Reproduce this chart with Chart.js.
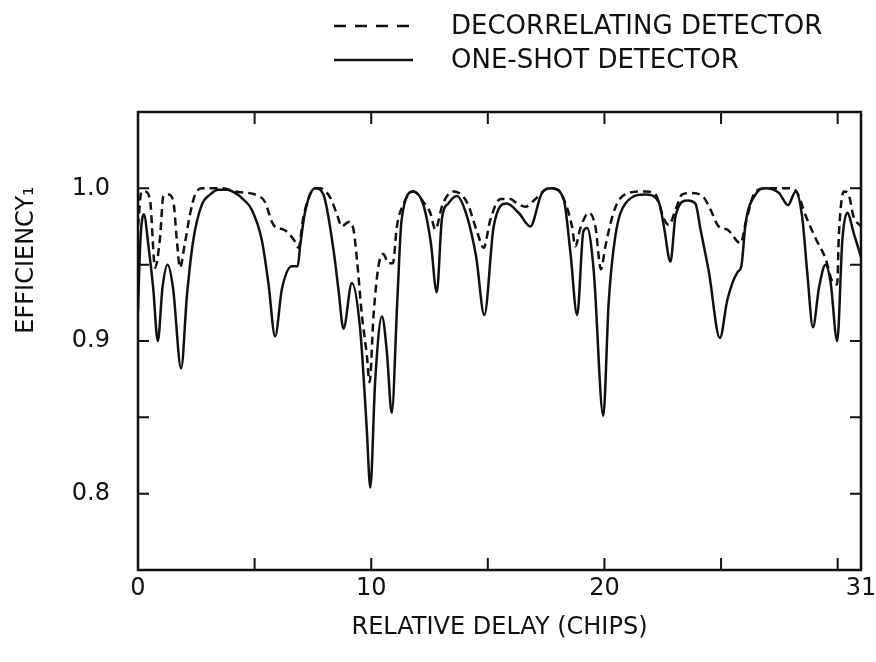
<!DOCTYPE html>
<html>
<head>
<meta charset="utf-8">
<script src="https://cdn.jsdelivr.net/npm/chart.js@4.4.0/dist/chart.umd.min.js"></script>
<style>
  html, body { margin: 0; padding: 0; background: #fff; }
</style>
</head>
<body>
<canvas id="myChart" width="876" height="662"></canvas>
<script>
// Retardo relativo (chips) y eficiencia
var oneShotX = [0, 0.1, 0.25, 0.45, 0.65, 0.85, 1.05, 1.27, 1.5, 1.85, 2.1, 2.37, 2.73, 3.1, 3.45, 3.8, 4.16, 4.5, 4.88,
  5.31, 5.59, 5.88, 6.17, 6.6, 6.85, 6.95, 7.17, 7.6, 7.95, 8.38, 8.6, 8.81, 9.17, 9.53, 9.81, 9.96, 10.17, 10.46,
  10.67, 10.88, 11.12, 11.3, 11.8, 12.24, 12.55, 12.81, 13.03, 13.3, 13.67, 14.1, 14.5, 14.85, 15.25, 15.8, 16.32,
  16.82, 17.32, 17.75, 18.25, 18.54, 18.83, 19.1, 19.26, 19.54, 19.95, 20.18, 20.47, 20.9, 21.76, 22.33, 22.55,
  22.83, 23.05, 23.55, 23.9, 24.12, 24.48, 24.95, 25.27, 25.7, 25.87, 26.05, 26.48, 26.9, 27.48, 27.87, 28.2,
  28.48, 28.7, 28.94, 29.2, 29.48, 29.7, 29.98, 30.2, 30.41, 30.7, 31];
var oneShotY = [0.92, 0.965, 0.983, 0.962, 0.935, 0.9, 0.935, 0.95, 0.935, 0.882, 0.93, 0.966, 0.989, 0.996, 0.999,
  0.999, 0.997, 0.993, 0.986, 0.966, 0.938, 0.903, 0.934, 0.949, 0.949, 0.962, 0.985, 1.0, 0.996, 0.96, 0.933,
  0.908, 0.938, 0.907, 0.842, 0.804, 0.874, 0.916, 0.893, 0.853, 0.927, 0.979, 0.998, 0.989, 0.965, 0.932, 0.98,
  0.99, 0.995, 0.982, 0.955, 0.917, 0.975, 0.99, 0.984, 0.975, 0.997, 1.0, 0.993, 0.958, 0.917, 0.972, 0.974,
  0.946, 0.851, 0.925, 0.969, 0.99, 0.996, 0.991, 0.975, 0.952, 0.982, 0.992, 0.99, 0.973, 0.945, 0.902, 0.927,
  0.945, 0.949, 0.977, 0.996, 1.0, 0.997, 0.989, 0.998, 0.981, 0.944, 0.909, 0.935, 0.95, 0.938, 0.9, 0.966,
  0.984, 0.97, 0.955];

var decorrX = [0, 0.15, 0.3, 0.52, 0.73, 0.94, 1.09, 1.3, 1.52, 1.66, 1.8, 2.0, 2.23, 2.45, 2.73, 3.59, 4.16, 5.16,
  5.45, 5.74, 5.95, 6.24, 6.74, 6.88, 7.1, 7.6, 7.81, 8.24, 8.53, 8.74, 9.03, 9.24, 9.39, 9.6, 9.81, 9.93, 10.1,
  10.31, 10.52, 10.74, 10.93, 11.1, 11.39, 11.8, 12.24, 12.53, 12.75, 13.03, 13.25, 13.53, 14.1, 14.53, 14.82,
  15.1, 15.54, 15.97, 16.18, 16.61, 17.04, 17.6, 18.0, 18.33, 18.61, 18.75, 18.97, 19.33, 19.61, 19.85, 20.04,
  20.33, 20.61, 21.04, 21.76, 22.19, 22.55, 22.76, 23.05, 23.33, 23.76, 24.26, 24.55, 24.9, 25.27, 25.84, 26.05,
  26.48, 26.95, 27.98, 28.27, 28.63, 29.06, 29.48, 29.77, 29.98, 30.05, 30.27, 30.49, 30.67, 31];
var decorrY = [0.975, 0.998, 0.998, 0.992, 0.948, 0.967, 0.995, 0.996, 0.991, 0.967, 0.948, 0.963, 0.983, 0.996,
  1.0, 1.0, 0.998, 0.995, 0.991, 0.978, 0.974, 0.973, 0.965, 0.961, 0.982, 1.0, 1.0, 0.994, 0.983, 0.975, 0.978,
  0.973, 0.953, 0.917, 0.891, 0.873, 0.917, 0.949, 0.957, 0.951, 0.951, 0.975, 0.99, 0.998, 0.991, 0.984, 0.973,
  0.988, 0.995, 0.998, 0.991, 0.972, 0.961, 0.979, 0.993, 0.993, 0.991, 0.988, 0.993, 1.0, 0.999, 0.99, 0.975,
  0.962, 0.974, 0.984, 0.975, 0.947, 0.962, 0.981, 0.992, 0.997, 0.998, 0.996, 0.98, 0.976, 0.986, 0.996, 0.997,
  0.994, 0.986, 0.975, 0.973, 0.964, 0.977, 0.998, 1.0, 1.0, 0.997, 0.982, 0.967, 0.954, 0.939, 0.937, 0.969,
  0.998, 0.995, 0.982, 0.975];

var xTicks = [0, 5, 10, 15, 20, 25, 30, 31];
var xLabels = [0, 10, 20, 31];
var yTicks = [0.8, 0.85, 0.9, 0.95, 1.0];
var yLabels = [0.8, 0.9, 1.0];

var FONT = "'DejaVu Sans', sans-serif";
var INK = '#111';

function pairs(xs, ys) {
  return xs.map(function(x, i) { return { x: x, y: ys[i] }; });
}

// marco, marcas hacia dentro, leyenda y titulo del eje y
var framePlugin = {
  id: 'frame',
  afterDraw: function(chart) {
    var c = chart.ctx, a = chart.chartArea;
    var sx = chart.scales.x, sy = chart.scales.y;
    c.save();
    c.strokeStyle = INK;
    c.lineWidth = 2.5;
    c.strokeRect(a.left, a.top, a.right - a.left, a.bottom - a.top);
    c.lineWidth = 2;
    c.beginPath();
    xTicks.forEach(function(v) {
      if (v === 0 || v === 31) return;
      var px = sx.getPixelForValue(v);
      c.moveTo(px, a.bottom); c.lineTo(px, a.bottom - 12);
      c.moveTo(px, a.top); c.lineTo(px, a.top + 12);
    });
    yTicks.forEach(function(v) {
      var py = sy.getPixelForValue(v);
      c.moveTo(a.left, py); c.lineTo(a.left + 11, py);
      c.moveTo(a.right, py); c.lineTo(a.right - 11, py);
    });
    c.stroke();

    // leyenda
    c.font = '26px ' + FONT;
    c.fillStyle = INK;
    c.textBaseline = 'middle';
    c.textAlign = 'left';
    chart.data.datasets.forEach(function(ds, i) {
      var y = 26 + i * 34;
      c.beginPath();
      c.lineWidth = 2.5;
      c.setLineDash(ds.borderDash ? [12, 9] : []);
      c.moveTo(334, y); c.lineTo(413, y);
      c.stroke();
      c.setLineDash([]);
      c.fillText(ds.label, 451, y + 1);
    });

    // titulo del eje y
    c.translate(27, 260);
    c.rotate(-Math.PI / 2);
    c.textAlign = 'center';
    c.font = '24px ' + FONT;
    c.fillText('EFFICIENCY\u2081', 0, 0);
    c.restore();
  }
};

var ctx = document.getElementById('myChart').getContext('2d');
var myChart = new Chart(ctx, {
  type: 'line',
  data: {
    datasets: [{
      label: 'DECORRELATING DETECTOR',
      data: pairs(decorrX, decorrY),
      borderColor: INK,
      borderWidth: 2.5,
      borderDash: [8, 5],
      pointRadius: 0,
      fill: false,
      cubicInterpolationMode: 'monotone'
    }, {
      label: 'ONE-SHOT DETECTOR',
      data: pairs(oneShotX, oneShotY),
      borderColor: INK,
      borderWidth: 2.5,
      pointRadius: 0,
      fill: false,
      cubicInterpolationMode: 'monotone'
    }]
  },
  options: {
    responsive: false,
    animation: false,
    layout: { padding: { left: 0, right: 15, top: 112, bottom: 0 } },
    plugins: {
      legend: { display: false },
      tooltip: { enabled: false }
    },
    scales: {
      x: {
        type: 'linear',
        min: 0,
        max: 31,
        grid: { display: false },
        border: { display: false },
        afterBuildTicks: function(s) { s.ticks = xTicks.map(function(v) { return { value: v }; }); },
        afterFit: function(s) { s.height = 92; s.paddingLeft = 0; s.paddingRight = 0; },
        ticks: {
          autoSkip: false,
          maxRotation: 0,
          padding: -4,
          color: INK,
          font: { family: FONT, size: 24 },
          callback: function(v) { return xLabels.indexOf(v) >= 0 ? String(v) : ''; }
        },
        title: {
          display: true,
          text: 'RELATIVE DELAY (CHIPS)',
          color: INK,
          font: { family: FONT, size: 24 },
          padding: { top: 0, bottom: 20 }
        }
      },
      y: {
        min: 0.75,
        max: 1.05,
        grid: { display: false },
        border: { display: false },
        afterBuildTicks: function(s) { s.ticks = yTicks.map(function(v) { return { value: v }; }); },
        afterFit: function(s) { s.width = 138; s.paddingTop = 0; s.paddingBottom = 0; },
        ticks: {
          autoSkip: false,
          padding: 20,
          color: INK,
          font: { family: FONT, size: 24 },
          callback: function(v) {
            var hit = yLabels.some(function(l) { return Math.abs(l - v) < 1e-6; });
            return hit ? v.toFixed(1) : '';
          }
        }
      }
    }
  },
  plugins: [framePlugin]
});
</script>
</body>
</html>
